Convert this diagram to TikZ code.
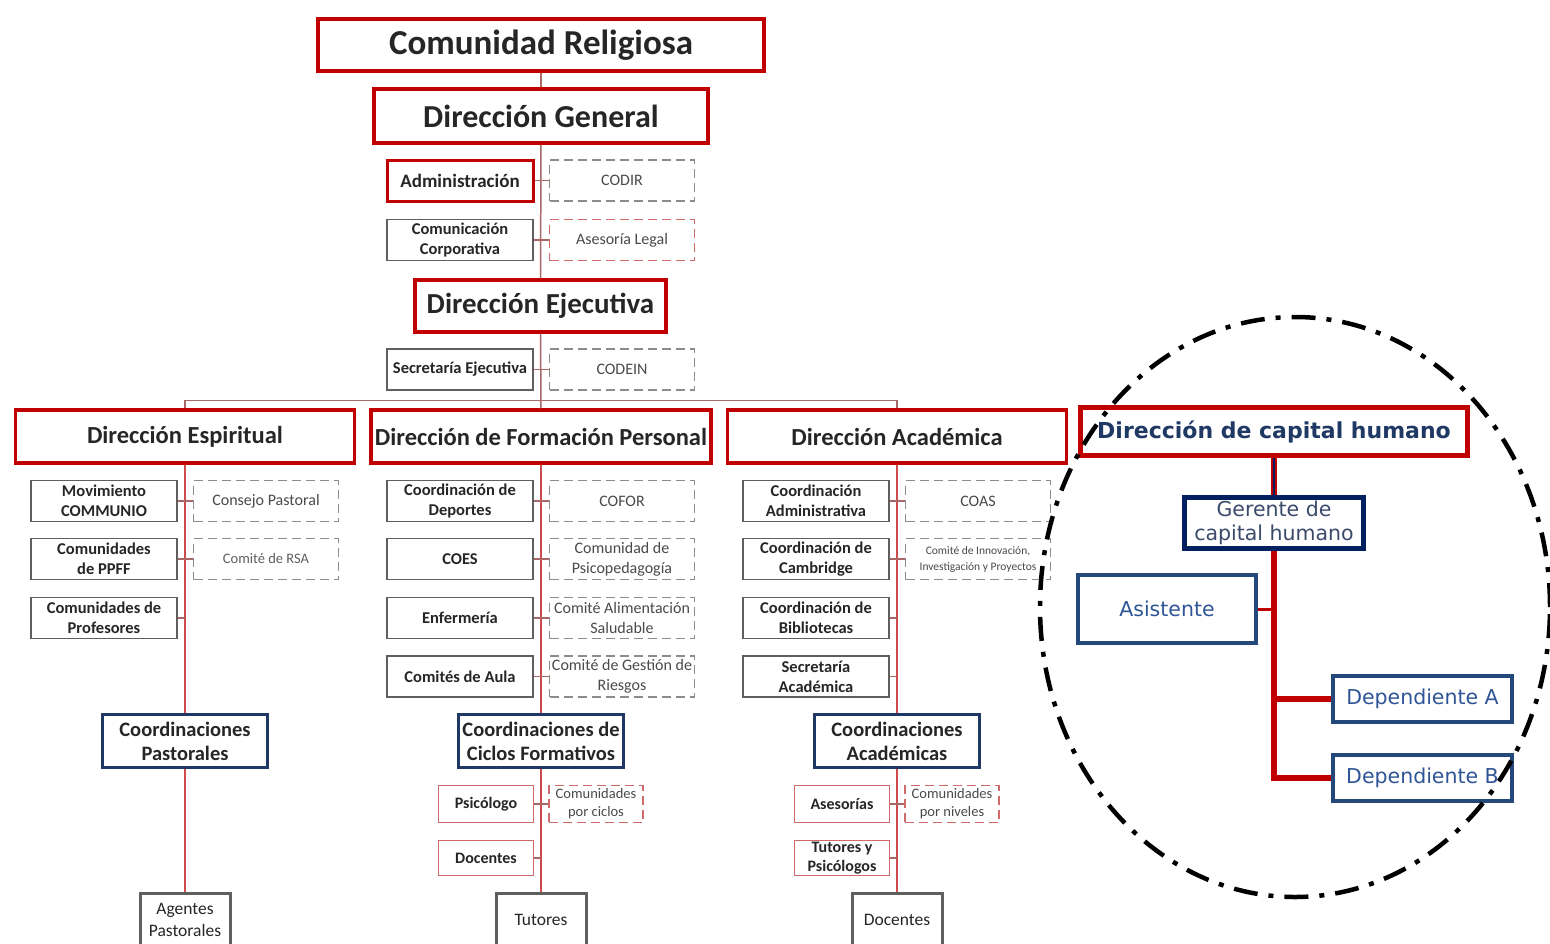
\documentclass[tikz,border=0pt]{standalone}
\usepackage{fontspec}
\setmainfont{Carlito}
\newfontfamily\humfont{DejaVu Sans}
\usepackage{xcolor}
\usetikzlibrary{positioning}
\definecolor{crimson}{HTML}{C00000}
\definecolor{navy}{HTML}{1F3864}
\definecolor{navydeep}{HTML}{002060}
\definecolor{steelblue}{HTML}{24487A}
\definecolor{azure}{HTML}{2F5597}
\definecolor{gerink}{HTML}{3B4A6B}
\definecolor{ink}{HTML}{262626}
\definecolor{slate}{HTML}{4A4A4A}
\definecolor{steel}{HTML}{5F5F5F}
\definecolor{ash}{HTML}{8C8C8C}
\definecolor{rose}{HTML}{D06A6A}
\definecolor{stemred}{HTML}{CF4A4A}
\definecolor{trunkcol}{HTML}{A86868}

\tikzset{
  headbox/.style={draw=crimson, line width=3.5pt, fill=white, text=ink, inner sep=2pt},
  unitbox/.style={draw=steel, line width=1.3pt, fill=white, minimum width=146pt, minimum height=41pt,
    inner sep=1pt, align=center, text=ink, font=\fontsize{16.5}{20}\selectfont\bfseries},
  dashbox/.style={draw=ash, line width=1.5pt, dash pattern=on 9pt off 5pt, fill=white, minimum width=145pt,
    minimum height=41pt, inner sep=1pt, align=center, text=slate, font=\fontsize{16}{20}\selectfont},
  reddash/.style={dashbox, draw=rose},
  coordbox/.style={draw=navy, line width=3.2pt, fill=white, minimum width=165pt, minimum height=53pt,
    inner sep=1pt, align=center, text=ink, font=\fontsize{20.5}{24}\selectfont\bfseries},
  lowbox/.style={draw=rose, line width=1.3pt, fill=white, minimum width=95pt, minimum height=37pt,
    inner sep=1pt, align=center, text=ink, font=\fontsize{16}{19}\selectfont\bfseries},
  lowdash/.style={reddash, minimum width=94pt, minimum height=37pt, font=\fontsize{14.5}{18}\selectfont},
  basebox/.style={draw=steel, line width=3pt, fill=white, minimum width=90pt, minimum height=54pt,
    inner sep=1pt, align=center, text=ink, font=\fontsize{17.5}{22}\selectfont},
  trunk/.style={draw=trunkcol, line width=1.5pt},
  stem/.style={draw=stemred, line width=1.4pt},
  twig/.style={draw=trunkcol, line width=1.2pt},
  humhead/.style={draw=crimson, line width=5pt, fill=white, minimum width=387pt, minimum height=48pt,
    inner sep=1pt, text=navy, font=\humfont\bfseries\fontsize{22}{26}\selectfont},
  gerbox/.style={draw=navydeep, line width=5pt, fill=white, minimum width=179pt, minimum height=51pt,
    inner sep=0pt, align=center, text=gerink, font=\humfont\fontsize{20.5}{24}\selectfont},
  staffbox/.style={draw=steelblue, line width=4pt, fill=white, minimum width=179pt, minimum height=46pt,
    inner sep=1pt, text=azure, font=\humfont\fontsize{20.5}{24}\selectfont},
  hrline/.style={draw=crimson, line width=6.5pt},
  ring/.style={draw=black, line width=4.5pt, dash pattern=on 24pt off 11pt on 5pt off 11pt}
}

\begin{document}
\begin{tikzpicture}[x=1pt, y=-1pt]
\path[use as bounding box, fill=white] (0,0) rectangle (1550,943);
\clip (0,0) rectangle (1550,943);

% direccion superior
\node[headbox, minimum width=446pt, minimum height=52pt, font=\bfseries\fontsize{35}{40}\selectfont] (com) at (541,45) {Comunidad Religiosa};
\node[headbox, minimum width=334pt, minimum height=54pt, font=\bfseries\fontsize{32}{36}\selectfont] (dgen) at (541,116) {Dirección General};
\node[unitbox, draw=crimson, line width=3pt, font=\fontsize{19}{22}\selectfont\bfseries] (adm) at (460,180.5) {Administración};
\node[dashbox] (codir) at (622,180.5) {CODIR};
\node[unitbox] (comcorp) at (460,240) {Comunicación\\Corporativa};
\node[reddash] (legal) at (622,240) {Asesoría Legal};
\node[headbox, minimum width=251pt, minimum height=52pt, font=\bfseries\fontsize{29}{33}\selectfont] (dejec) at (540.5,306) {Dirección Ejecutiva};
\node[unitbox] (secej) at (460,369.5) {Secretaría Ejecutiva};
\node[dashbox] (codein) at (622,369.5) {CODEIN};

% tres direcciones
\node[headbox, minimum width=339pt, minimum height=53pt, font=\bfseries\fontsize{24.5}{28}\selectfont] (dpir) at (185,436.5) {Dirección Espiritual};
\node[headbox, minimum width=340pt, minimum height=53pt, font=\bfseries\fontsize{24.5}{28}\selectfont] (dform) at (541,436.5) {Dirección de Formación Personal};
\node[headbox, minimum width=339pt, minimum height=53pt, font=\bfseries\fontsize{24.5}{28}\selectfont] (dacad) at (897,436.5) {Dirección Académica};

% columna espiritual
\node[unitbox] (movi) at (104,501) {Movimiento\\COMMUNIO};
\node[dashbox] (consejo) at (266,501) {Consejo Pastoral};
\node[unitbox] (ppff) at (104,559) {Comunidades\\de PPFF};
\node[dashbox, text=steel, font=\fontsize{14.5}{18}\selectfont] (rsa) at (266,559) {Comité de RSA};
\node[unitbox] (profes) at (104,618) {Comunidades de\\Profesores};
\node[coordbox] (cpast) at (185,741) {Coordinaciones\\Pastorales};
\node[basebox] (agentes) at (185,920) {Agentes\\Pastorales};

% columna formacion
\node[unitbox] (depor) at (460,501) {Coordinación de\\Deportes};
\node[dashbox] (cofor) at (622,501) {COFOR};
\node[unitbox] (coes) at (460,559) {COES};
\node[dashbox] (psicoped) at (622,559) {Comunidad de\\Psicopedagogía};
\node[unitbox] (enfer) at (460,618) {Enfermería};
\node[dashbox] (alimen) at (622,618) {Comité Alimentación\\Saludable};
\node[unitbox] (aula) at (460,676.5) {Comités de Aula};
\node[dashbox] (riesgos) at (622,676.5) {Comité de Gestión de\\Riesgos};
\node[coordbox] (cciclos) at (541,741) {Coordinaciones de\\Ciclos Formativos};
\node[lowbox] (psico) at (486,804) {Psicólogo};
\node[lowdash] (pciclos) at (596,804) {Comunidades\\por ciclos};
\node[lowbox, minimum height=35pt] (doc1) at (486,858) {Docentes};
\node[basebox] (tutores) at (541,920) {Tutores};

% columna academica
\node[unitbox] (cadmin) at (816,501) {Coordinación\\Administrativa};
\node[dashbox] (coas) at (978,501) {COAS};
\node[unitbox] (cambr) at (816,559) {Coordinación de\\Cambridge};
\node[dashbox, font=\fontsize{11.5}{16}\selectfont] (innov) at (978,559) {Comité de Innovación,\\Investigación y Proyectos};
\node[unitbox] (biblio) at (816,618) {Coordinación de\\Bibliotecas};
\node[unitbox] (secac) at (816,676.5) {Secretaría\\Académica};
\node[coordbox] (cacad) at (897,741) {Coordinaciones\\Académicas};
\node[lowbox] (aseso) at (842,804) {Asesorías};
\node[lowdash] (pnivel) at (952,804) {Comunidades\\por niveles};
\node[lowbox, minimum height=35pt] (tutpsi) at (842,858) {Tutores y\\Psicólogos};
\node[basebox] (doc2) at (897,920) {Docentes};

% conectores
\draw[trunk] (com) -- (dgen);
\draw[trunk] (dgen) -- (dejec);
\draw[trunk] (dejec) -- (dform);
\draw[trunk] (dpir.north) -- ++(0,-8) -| (dacad.north);
\draw[twig] (adm) -- (codir);
\draw[twig] (comcorp) -- (legal);
\draw[twig] (secej) -- (codein);

\draw[stem] (dpir) -- (cpast);
\draw[stem] (cpast) -- (agentes);
\draw[twig] (movi) -- (consejo);
\draw[twig] (ppff) -- (rsa);
\draw[twig] (profes.east) -- (profes.east -| dpir.south);

\draw[stem] (dform) -- (cciclos);
\draw[stem] (cciclos) -- (tutores);
\draw[twig] (depor) -- (cofor);
\draw[twig] (coes) -- (psicoped);
\draw[twig] (enfer) -- (alimen);
\draw[twig] (aula) -- (riesgos);
\draw[twig] (psico) -- (pciclos);
\draw[twig] (doc1.east) -- (doc1.east -| cciclos.south);

\draw[stem] (dacad) -- (cacad);
\draw[stem] (cacad) -- (doc2);
\draw[twig] (cadmin) -- (coas);
\draw[twig] (cambr) -- (innov);
\draw[twig] (biblio.east) -- (biblio.east -| dacad.south);
\draw[twig] (secac.east) -- (secac.east -| dacad.south);
\draw[twig] (aseso) -- (pnivel);
\draw[twig] (tutpsi.east) -- (tutpsi.east -| cacad.south);

% capital humano
\node[humhead] (dch) at (1274,431.5) {Dirección de capital humano};
\node[gerbox] (geren) at (1274,523) {Gerente de\\capital humano};
\node[staffbox, minimum width=178pt, minimum height=68pt] (asist) at (1167,609) {Asistente};
\node[staffbox] (depa) at (1422.5,699) {Dependiente A};
\node[staffbox] (depb) at (1422.5,778) {Dependiente B};

\draw[draw=crimson, line width=2pt, double=navydeep, double distance=2.5pt] (dch) -- (geren);
\draw[hrline] (geren.south) |- (depb.west);
\draw[hrline] (depa.west) -- (depa.west -| geren.south);
\draw[draw=crimson, line width=3pt] (asist.east) -- (asist.east -| geren.south);

\draw[ring] (1295,607) ellipse [x radius=255pt, y radius=290pt];
\end{tikzpicture}
\end{document}
